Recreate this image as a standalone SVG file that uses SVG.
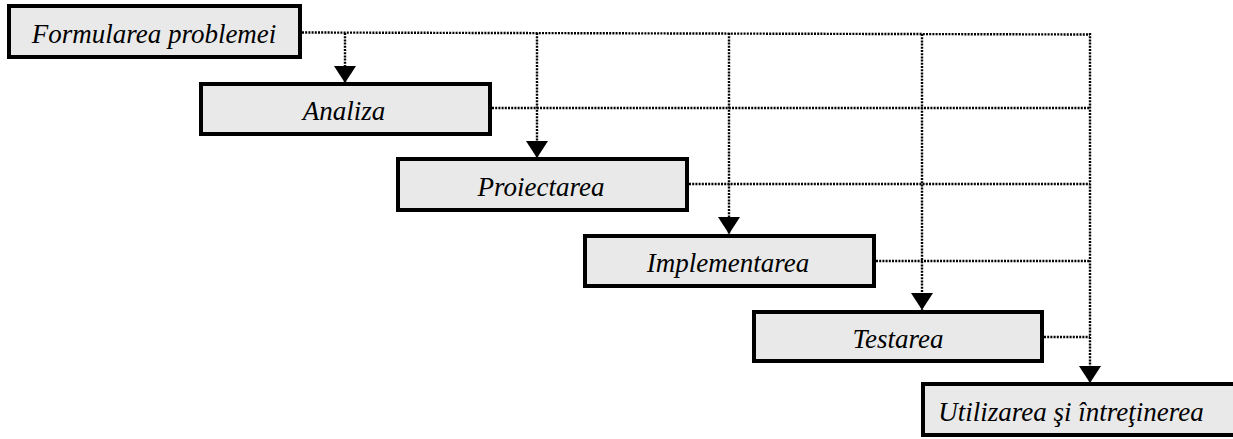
<svg xmlns="http://www.w3.org/2000/svg" width="1233" height="439" viewBox="0 0 1233 439">
<style>
.box{fill:#e9e9e9;stroke:#000;stroke-width:4}
.lbl{font-family:'Liberation Serif','Times New Roman',serif;font-style:italic;font-size:27px;fill:#000;text-anchor:middle}
.dot{fill:none;stroke:#000;stroke-width:2.4;stroke-dasharray:2 1.2}
</style>
<defs>
<marker id="ah" viewBox="0 0 17 22" refX="17" refY="11" markerWidth="17" markerHeight="22" markerUnits="userSpaceOnUse" orient="auto">
<path d="M0,0 L17,11 L0,22 Z" fill="#000"/>
</marker>
</defs>
<rect width="1233" height="439" fill="#fff"/>
<g id="connectors">
<path class="dot" d="M302,32.5 L1090,34.5"/>
<path class="dot" d="M492,108 L1090,108"/>
<path class="dot" d="M689,184 L1090,184"/>
<path class="dot" d="M876,261 L1090,261"/>
<path class="dot" d="M1044,337 L1090,337"/>
<path class="dot" d="M345,33 L345,83" marker-end="url(#ah)"/>
<path class="dot" d="M537,33 L537,158" marker-end="url(#ah)"/>
<path class="dot" d="M729,33 L729,234" marker-end="url(#ah)"/>
<path class="dot" d="M922,34 L922,310" marker-end="url(#ah)"/>
<path class="dot" d="M1090,33 L1090,383" marker-end="url(#ah)"/>
</g>
<g id="n1"><rect class="box" x="9" y="6" width="291" height="51"/><text class="lbl" x="154" y="43">Formularea problemei</text></g>
<g id="n2"><rect class="box" x="201" y="84" width="289" height="50"/><text class="lbl" x="344" y="120">Analiza</text></g>
<g id="n3"><rect class="box" x="398" y="159" width="289" height="51"/><text class="lbl" x="541" y="196">Proiectarea</text></g>
<g id="n4"><rect class="box" x="585" y="236" width="289" height="50"/><text class="lbl" x="728" y="272">Implementarea</text></g>
<g id="n5"><rect class="box" x="754" y="312" width="288" height="49"/><text class="lbl" x="898" y="348">Testarea</text></g>
<g id="n6"><rect class="box" x="923" y="384" width="314" height="51"/><text class="lbl" x="1071" y="421">Utilizarea şi întreţinerea</text></g>
</svg>
